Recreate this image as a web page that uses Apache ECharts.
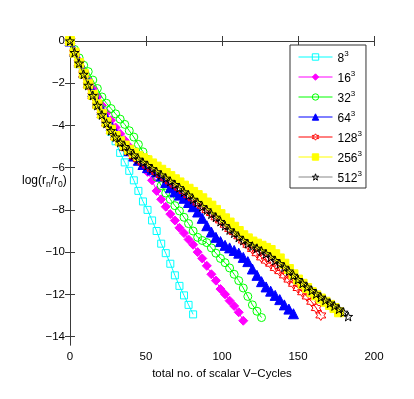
<!DOCTYPE html>
<html>
<head>
<meta charset="utf-8">
<script src="https://cdn.jsdelivr.net/npm/echarts@6/dist/echarts.min.js"></script>
<style>
  html, body { margin: 0; padding: 0; background: #fff; }
  #chart { width: 414px; height: 399px; }
</style>
</head>
<body>
<div id="chart"></div>
<script>
// total scalar V-cycles at each iteration (shared by every grid size)
var cycles = [0, 3, 6, 9, 12, 15, 18, 21, 24, 27, 30, 33, 36, 39, 42, 45, 48, 51, 54, 57,
  60, 63, 66, 69, 72, 75, 78, 81, 84, 87, 90, 93, 96, 99, 102, 105, 108, 111, 114, 117,
  120, 123, 126, 129, 132, 135, 138, 141, 144, 147, 150, 153, 156, 159, 162, 165, 168,
  171, 174, 177, 180, 183];

// grid sizes (label base, shown with a superscript 3)
var gridSizes = ["8", "16", "32", "64", "128", "256", "512"];

// log(r_n / r_0) per iteration
var res8 = [0, -0.55, -1.1, -1.6, -2.1, -2.6, -3.05, -3.5, -3.9, -4.3, -4.75, -5.3, -5.75,
  -6.15, -6.6, -7.1, -7.6, -8.0, -8.5, -9.0, -9.6, -10.05, -10.55, -11.1, -11.6, -12.05,
  -12.5, -12.95];
var res16 = [0, -0.5, -0.95, -1.4, -1.85, -2.25, -2.65, -3.05, -3.4, -3.75, -4.1, -4.4, -4.7,
  -5.0, -5.3, -5.55, -5.85, -6.2, -6.6, -7.1, -7.5, -7.85, -8.2, -8.5, -8.85, -9.1, -9.4,
  -9.65, -10.0, -10.3, -10.65, -11.05, -11.35, -11.75, -12.0, -12.3, -12.55, -12.85, -13.25];
var res32 = [0, -0.4, -0.8, -1.15, -1.45, -1.85, -2.25, -2.65, -2.95, -3.2, -3.45, -3.7, -3.95,
  -4.25, -4.55, -4.9, -5.25, -5.6, -6.0, -6.45, -6.85, -7.2, -7.5, -7.8, -8.05, -8.35, -8.65,
  -9.0, -9.3, -9.45, -9.55, -9.8, -10.05, -10.3, -10.5, -10.75, -11.05, -11.35, -11.7, -12.1,
  -12.5, -12.8, -13.1];
var res64 = [0, -0.5, -1.0, -1.5, -1.95, -2.4, -2.85, -3.25, -3.65, -4.0, -4.35, -4.65, -4.95,
  -5.2, -5.45, -5.65, -5.85, -6.0, -6.1, -6.2, -6.4, -6.7, -6.95, -7.15, -7.3, -7.45, -7.65,
  -7.85, -8.1, -8.4, -8.75, -9.05, -9.3, -9.5, -9.68, -9.8, -9.92, -10.05, -10.25, -10.45,
  -10.8, -11.1, -11.4, -11.65, -11.85, -12.05, -12.25, -12.5, -12.7, -12.92];
var res128 = [0, -0.55, -1.05, -1.58, -2.1, -2.6, -3.05, -3.5, -3.9, -4.25, -4.55, -4.8, -5.05,
  -5.25, -5.45, -5.6, -5.75, -5.9, -6.05, -6.2, -6.35, -6.5, -6.65, -6.8, -6.95, -7.1, -7.3,
  -7.45, -7.65, -7.8, -8.0, -8.15, -8.35, -8.5, -8.7, -8.9, -9.05, -9.25, -9.45, -9.65,
  -9.85, -10.05, -10.25, -10.4, -10.55, -10.75, -10.9, -11.1, -11.3, -11.5, -11.7, -11.9,
  -12.1, -12.35, -12.65, -13.0];
var res256 = [0, -0.55, -1.05, -1.55, -2.05, -2.55, -3.0, -3.45, -3.85, -4.2, -4.5, -4.75, -4.95,
  -5.15, -5.3, -5.45, -5.55, -5.65, -5.8, -5.95, -6.1, -6.25, -6.4, -6.55, -6.7, -6.85, -7.0,
  -7.15, -7.3, -7.45, -7.65, -7.8, -8.0, -8.2, -8.4, -8.6, -8.8, -9.0, -9.2, -9.35, -9.5,
  -9.6, -9.7, -9.8, -9.9, -10.1, -10.3, -10.55, -10.8, -11.05, -11.3, -11.5, -11.7, -11.9,
  -12.05, -12.2, -12.35, -12.5, -12.65, -12.85];
var res512 = [0, -0.55, -1.05, -1.58, -2.1, -2.58, -3.05, -3.5, -3.9, -4.25, -4.55, -4.8, -5.0,
  -5.2, -5.4, -5.6, -5.75, -5.9, -6.05, -6.2, -6.35, -6.5, -6.65, -6.8, -6.95, -7.15, -7.3,
  -7.5, -7.65, -7.85, -8.0, -8.2, -8.35, -8.55, -8.75, -8.95, -9.1, -9.3, -9.45, -9.6,
  -9.72, -9.82, -9.95, -10.08, -10.25, -10.4, -10.55, -10.72, -10.9, -11.1, -11.3, -11.48,
  -11.66, -11.82, -11.98, -12.14, -12.28, -12.42, -12.55, -12.7, -12.85, -13.05];

var xTicks = [0, 50, 100, 150, 200];
var yTicks = [0, -2, -4, -6, -8, -10, -12, -14];

var HEXAGRAM = "path://M0,-10L2.89,-5L8.66,-5L5.77,0L8.66,5L2.89,5L0,10L-2.89,5L-8.66,5L-5.77,0L-8.66,-5L-2.89,-5Z";
var PENTAGRAM = "path://M0,-10L2.25,-3.09L9.51,-3.09L3.63,1.18L5.88,8.09L0,3.82L-5.88,8.09L-3.63,1.18L-9.51,-3.09L-2.25,-3.09Z";

var FONT = "'Liberation Sans', Arial, Helvetica, sans-serif";
var AXIS = "#3a3a3a";
var NONE = "rgba(255,255,255,0)";

function pairs(ys) {
  return ys.map(function (y, i) { return [cycles[i], y]; });
}

// marker style per grid size, in drawing order
var styles = [
  { data: res8,   color: "#00ffff", symbol: "rect",     size: 7, hollow: true },
  { data: res16,  color: "#ff00ff", symbol: "diamond",  size: 9, hollow: false },
  { data: res32,  color: "#00ff00", symbol: "circle",   size: 8, hollow: true },
  { data: res64,  color: "#0000ff", symbol: "triangle", size: 10, hollow: false },
  { data: res128, color: "#ff0000", symbol: HEXAGRAM,   size: 10, hollow: true },
  { data: res256, color: "#ffff00", symbol: "rect",     size: 9, hollow: false },
  { data: res512, color: "#000000", symbol: PENTAGRAM,  size: 9, hollow: true, line: "#333333" }
];

var series = styles.map(function (s, i) {
  return {
    name: gridSizes[i],
    type: "line",
    data: pairs(s.data),
    symbol: s.symbol,
    symbolSize: s.size,
    showAllSymbol: true,
    lineStyle: { color: s.line || s.color, width: 1 },
    itemStyle: {
      color: s.hollow ? NONE : s.color,
      borderColor: s.color,
      borderWidth: 1
    },
    emphasis: { disabled: true },
    z: 2 + i
  };
});

var legendData = styles.map(function (s, i) {
  return {
    name: gridSizes[i],
    itemStyle: { color: s.hollow ? NONE : s.color, borderColor: s.color, borderWidth: 1 },
    lineStyle: { color: s.line ? "#888" : s.color, width: 1 }
  };
});

var tickStyle = { inside: true, length: 5, lineStyle: { color: AXIS } };

var option = {
  animation: false,
  backgroundColor: "#fff",
  textStyle: { fontFamily: FONT },
  grid: { left: 70, right: 40, top: 41, bottom: 54 },
  legend: {
    left: 290,
    top: 45,
    orient: "vertical",
    backgroundColor: "#fff",
    borderColor: "#333",
    borderWidth: 1,
    borderRadius: 0,
    padding: [5, 4, 3, 8],
    itemWidth: 34,
    itemHeight: 8,
    itemGap: 5,
    data: legendData,
    formatter: function (name) { return "{b|" + name + "}{s|3}"; },
    textStyle: {
      color: "#000",
      fontFamily: FONT,
      rich: {
        b: { fontSize: 12, fontFamily: FONT, color: "#000", padding: [4, 0, 0, 0] },
        s: { fontSize: 8, fontFamily: FONT, color: "#000", padding: [0, 0, 6, 0] }
      }
    }
  },
  xAxis: [{
    type: "value", min: 0, max: 200, interval: 50,
    position: "bottom",
    name: "total no. of scalar V\u2212Cycles",
    nameLocation: "middle", nameGap: 20,
    nameTextStyle: { fontSize: 11.5, color: "#000", fontFamily: FONT },
    axisLine: { lineStyle: { color: AXIS } },
    axisTick: tickStyle,
    axisLabel: { fontSize: 11.5, color: "#000", margin: 6, fontFamily: FONT },
    splitLine: { show: false }
  }, {
    type: "value", min: 0, max: 200, interval: 50,
    position: "top",
    axisLine: { lineStyle: { color: AXIS } },
    axisTick: tickStyle,
    axisLabel: { show: false },
    splitLine: { show: false }
  }],
  yAxis: [{
    type: "value", min: -14.4, max: 0,
    position: "left",
    axisLine: { lineStyle: { color: AXIS } },
    axisTick: { inside: true, length: 5, lineStyle: { color: AXIS }, customValues: yTicks },
    axisLabel: {
      fontSize: 11.5, color: "#000", margin: 5, fontFamily: FONT, customValues: yTicks,
      formatter: function (v) { return String(v).replace("-", "\u2212"); }
    },
    splitLine: { show: false }
  }, {
    type: "value", min: -14.4, max: 0,
    position: "right",
    axisLine: { lineStyle: { color: AXIS } },
    axisTick: { inside: true, length: 5, lineStyle: { color: AXIS }, customValues: yTicks },
    axisLabel: { show: false },
    splitLine: { show: false }
  }],
  graphic: [{
    type: "text",
    left: 22,
    top: 175,
    style: {
      text: "log(r{sub|n}/r{sub|0})",
      fontSize: 12,
      fontFamily: FONT,
      fill: "#000",
      rich: {
        sub: { fontSize: 8.5, fontFamily: FONT, fill: "#000", padding: [7, 0, 0, 0] }
      }
    }
  }],
  series: series
};

var chart = echarts.init(document.getElementById("chart"), null, { renderer: "canvas" });
chart.setOption(option);
</script>
</body>
</html>
